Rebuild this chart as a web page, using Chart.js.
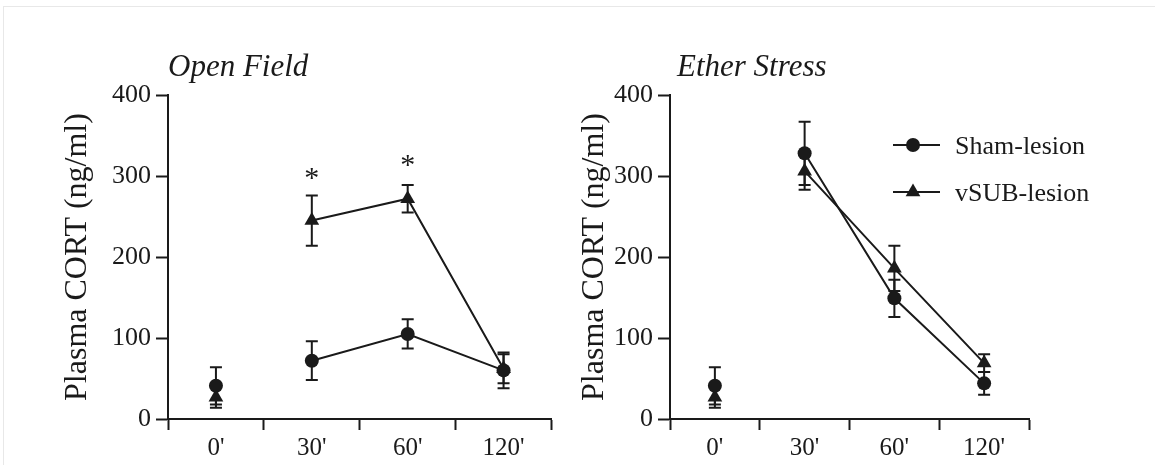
<!DOCTYPE html>
<html>
<head>
<meta charset="utf-8">
<script src="https://cdn.jsdelivr.net/npm/chart.js@4.4.0/dist/chart.umd.min.js"></script>
<style>
  html, body { margin: 0; padding: 0; background: #fff; }
  #wrap { position: relative; width: 1155px; height: 465px; overflow: hidden; }
  #frame { position: absolute; left: 3px; top: 6px; right: 0; bottom: 0;
           border-left: 1px solid #e8e8e8; border-top: 1px solid #e8e8e8; }
  #openChart { position: absolute; left: 0; top: 0; }
  #etherChart { position: absolute; left: 560px; top: 0; }
</style>
</head>
<body>
<div id="wrap">
  <div id="frame"></div>
  <canvas id="openChart" width="560" height="465"></canvas>
  <canvas id="etherChart" width="595" height="465"></canvas>
</div>
<script>
// ---- data ----
const timeLabels = ["0'", "30'", "60'", "120'"];
const yTicks = [0, 100, 200, 300, 400];

const openShamMean = [41, 72, 105, 60];
const openShamErr  = [23, 24, 18, 22];
const openSubMean  = [27, 245, 272, 62];
const openSubErr   = [13, 31, 17, 18];
const openStars    = [null, 304, 320, null];

const etherShamMean = [41, 328, 149, 44];
const etherShamErr  = [23, 39, 23, 14];
const etherSubMean  = [27, 306, 186, 69];
const etherSubErr   = [13, 23, 28, 11];

const ink = '#1a1a1a';
const serif = "'Liberation Serif', 'Times New Roman', serif";

// error bars under the markers
const errorBars = {
  id: 'errorBars',
  beforeDatasetsDraw(chart) {
    const { ctx, scales: { y } } = chart;
    ctx.save();
    ctx.strokeStyle = ink;
    ctx.lineWidth = 2;
    chart.data.datasets.forEach((ds, i) => {
      if (!ds.errors) return;
      chart.getDatasetMeta(i).data.forEach((pt, j) => {
        const v = ds.data[j], e = ds.errors[j];
        if (v == null || !e) return;
        const top = y.getPixelForValue(v + e), bot = y.getPixelForValue(v - e);
        ctx.beginPath();
        ctx.moveTo(pt.x, top); ctx.lineTo(pt.x, bot);
        ctx.moveTo(pt.x - 6, top); ctx.lineTo(pt.x + 6, top);
        ctx.moveTo(pt.x - 6, bot); ctx.lineTo(pt.x + 6, bot);
        ctx.stroke();
      });
    });
    ctx.restore();
  }
};

// panel title, significance stars and the line+marker legend
const panelText = {
  id: 'panelText',
  afterDraw(chart, args, opts) {
    const { ctx, chartArea, scales: { x, y } } = chart;
    ctx.save();
    ctx.fillStyle = ink;
    ctx.textBaseline = 'alphabetic';
    ctx.textAlign = 'left';
    ctx.font = 'italic 31px ' + serif;
    ctx.fillText(opts.title, chartArea.left + (opts.titleDx || 0), 76);

    if (opts.stars) {
      ctx.font = '30px ' + serif;
      ctx.textAlign = 'center';
      opts.stars.forEach((s, i) => {
        if (s == null) return;
        ctx.fillText('*', x.getPixelForValue(i), y.getPixelForValue(s) + 14);
      });
    }

    if (opts.legend) {
      const lx = opts.legend.x, ly = opts.legend.y;
      ctx.font = '26px ' + serif;
      ctx.textAlign = 'left';
      ctx.textBaseline = 'middle';
      chart.data.datasets.forEach((ds, i) => {
        const ry = ly + i * 47;
        ctx.strokeStyle = ink;
        ctx.lineWidth = 2;
        ctx.beginPath();
        ctx.moveTo(lx, ry); ctx.lineTo(lx + 47, ry);
        ctx.stroke();
        ctx.fillStyle = ink;
        Chart.helpers.drawPoint(ctx, {
          pointStyle: ds.pointStyle, radius: ds.pointRadius, rotation: 0, borderWidth: 0
        }, lx + 20, ry);
        ctx.fillStyle = ink;
        ctx.fillText(ds.label, lx + 62, ry + 2);
      });
    }
    ctx.restore();
  }
};

function series(label, data, errors, style, radius) {
  return {
    label, data, errors,
    borderColor: ink, borderWidth: 2,
    backgroundColor: ink,
    pointStyle: style, pointRadius: radius, pointHoverRadius: radius,
    pointBackgroundColor: ink, pointBorderColor: ink, pointBorderWidth: 0,
    tension: 0,
    segment: { borderColor: c => c.p0DataIndex === 0 ? 'transparent' : ink }
  };
}

function makePanel(id, shamMean, shamErr, subMean, subErr, areaLeft, padRight, titleX, panelOpts) {
  new Chart(document.getElementById(id), {
    type: 'line',
    data: {
      labels: timeLabels,
      datasets: [
        series('Sham-lesion', shamMean, shamErr, 'circle', 7),
        series('vSUB-lesion', subMean, subErr, 'triangle', 8.5)
      ]
    },
    options: {
      responsive: false,
      animation: false,
      events: [],
      layout: { padding: { left: 0, right: padRight, top: 95, bottom: 0 } },
      plugins: { legend: { display: false }, tooltip: { enabled: false }, panelText: panelOpts },
      scales: {
        x: {
          type: 'category',
          offset: true,
          grid: { offset: true, drawOnChartArea: false, drawTicks: true, tickLength: 11,
                  tickColor: ink, tickWidth: 2, color: ink },
          border: { display: true, color: ink, width: 2 },
          ticks: { color: ink, font: { family: serif, size: 25 }, padding: 3, maxRotation: 0 },
          afterFit: s => { s.height = 46; }
        },
        y: {
          min: 0, max: 400,
          afterBuildTicks: s => { s.ticks = yTicks.map(v => ({ value: v })); },
          grid: { drawOnChartArea: false, drawTicks: true, tickLength: 12,
                  tickColor: ink, tickWidth: 2, color: ink },
          border: { display: true, color: ink, width: 2 },
          ticks: { color: ink, font: { family: serif, size: 26 }, padding: 5 },
          title: { display: true, text: 'Plasma CORT (ng/ml)', color: ink,
                   font: { family: serif, size: 32 }, padding: { top: titleX - 19.2, bottom: 0 } },
          afterFit: s => { s.width = areaLeft; }
        }
      }
    },
    plugins: [errorBars, panelText]
  });
}

makePanel('openChart', openShamMean, openShamErr, openSubMean, openSubErr, 168, 8, 78,
  { title: 'Open Field', titleDx: 0, stars: openStars });
makePanel('etherChart', etherShamMean, etherShamErr, etherSubMean, etherSubErr, 110, 126, 35,
  { title: 'Ether Stress', titleDx: 7, legend: { x: 333, y: 145 } });
</script>
</body>
</html>
